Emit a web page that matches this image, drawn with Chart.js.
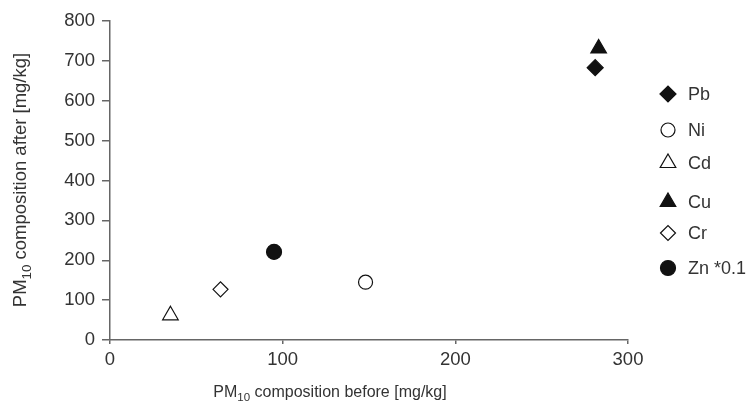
<!DOCTYPE html>
<html>
<head>
<meta charset="utf-8">
<script src="https://cdn.jsdelivr.net/npm/chart.js@4"></script>
<style>
  html, body { margin: 0; padding: 0; background: #fff; }
  #wrap { width: 749px; height: 403px; position: relative; }
</style>
</head>
<body>
<div id="wrap"><canvas id="chart"></canvas></div>
<script>
// metals, before vs after (Zn scaled by 0.1)
const elements = ['Pb', 'Ni', 'Cd', 'Cu', 'Cr', 'Zn *0.1']
const before = [281, 148, 35, 283, 64, 95]
const after = [683, 145, 62, 731, 127, 221]
const xTicks = [0, 100, 200, 300]
const yTicks = [0, 100, 200, 300, 400, 500, 600, 700, 800]

// marker looks, one per element
const shapes = ['rectRot', 'circle', 'triangle', 'triangle', 'rectRot', 'circle']
const filled = [true, false, false, true, false, true]
const sizes = [8, 7, 9, 9, 7.5, 7.5]
const legendY = [94, 130, 163, 202, 233, 268]

const ink = '#111'
const textColor = '#333'
const axisColor = '#666'

const datasets = elements.map((name, i) => ({
  label: name,
  data: [{ x: before[i], y: after[i] }],
  pointStyle: shapes[i],
  pointRadius: sizes[i],
  pointHoverRadius: sizes[i],
  backgroundColor: filled[i] ? ink : '#fff',
  borderColor: ink,
  borderWidth: 1.2
}))

function drawTitle(ctx, parts, size) {
  // parts: [text, isSub]
  let x = 0
  parts.forEach(([t, sub]) => {
    ctx.font = (sub ? size * 0.72 : size) + 'px "Liberation Sans", Arial, sans-serif'
    ctx.fillText(t, x, sub ? size * 0.28 : 0)
    x += ctx.measureText(t).width
  })
  return x
}
function titleWidth(ctx, parts, size) {
  let w = 0
  parts.forEach(([t, sub]) => {
    ctx.font = (sub ? size * 0.72 : size) + 'px "Liberation Sans", Arial, sans-serif'
    w += ctx.measureText(t).width
  })
  return w
}

const extras = {
  id: 'extras',
  afterDraw(chart) {
    const ctx = chart.ctx
    ctx.save()
    ctx.fillStyle = textColor
    ctx.textBaseline = 'alphabetic'
    ctx.textAlign = 'left'

    // x title
    const xt = [['PM', false], ['10', true], [' composition before [mg/kg]', false]]
    const xw = titleWidth(ctx, xt, 16)
    ctx.save()
    ctx.translate(330 - xw / 2, 397)
    drawTitle(ctx, xt, 16)
    ctx.restore()

    // y title
    const yt = [['PM', false], ['10', true], [' composition after [mg/kg]', false]]
    const yw = titleWidth(ctx, yt, 18.5)
    ctx.save()
    ctx.translate(26, 180 + yw / 2)
    ctx.rotate(-Math.PI / 2)
    drawTitle(ctx, yt, 18.5)
    ctx.restore()

    // legend
    ctx.font = '18px "Liberation Sans", Arial, sans-serif'
    ctx.textBaseline = 'middle'
    elements.forEach((name, i) => {
      ctx.fillStyle = filled[i] ? ink : '#fff'
      ctx.strokeStyle = ink
      ctx.lineWidth = 1.2
      Chart.helpers.drawPoint(ctx, { pointStyle: shapes[i], radius: sizes[i], borderWidth: 1.2 }, 668, legendY[i])
      ctx.fillStyle = textColor
      ctx.fillText(name, 688, legendY[i] + 1)
    })
    ctx.restore()
  }
}

new Chart(document.getElementById('chart'), {
  type: 'scatter',
  data: { datasets },
  plugins: [extras],
  options: {
    responsive: true,
    maintainAspectRatio: false,
    animation: false,
    layout: { padding: { left: 0, top: 21, right: 121, bottom: 0 } },
    plugins: {
      legend: { display: false },
      tooltip: { enabled: false }
    },
    scales: {
      x: {
        type: 'linear',
        min: 0,
        max: 300,
        afterFit: (s) => { s.height = 63 },
        afterBuildTicks: (s) => { s.ticks = xTicks.map(v => ({ value: v })) },
        grid: { drawOnChartArea: false, drawTicks: true, tickLength: 4, color: axisColor, lineWidth: 1.5 },
        border: { color: axisColor, width: 1.5 },
        ticks: { color: textColor, padding: 5, maxRotation: 0, font: { family: '"Liberation Sans", Arial, sans-serif', size: 18.5 } }
      },
      y: {
        type: 'linear',
        min: 0,
        max: 800,
        afterFit: (s) => { s.width = 110 },
        afterBuildTicks: (s) => { s.ticks = yTicks.map(v => ({ value: v })) },
        grid: { drawOnChartArea: false, drawTicks: true, tickLength: 8, color: axisColor, lineWidth: 1.5 },
        border: { color: axisColor, width: 1.5 },
        ticks: { color: textColor, padding: 7, font: { family: '"Liberation Sans", Arial, sans-serif', size: 18.5 } }
      }
    }
  }
})
</script>
</body>
</html>
